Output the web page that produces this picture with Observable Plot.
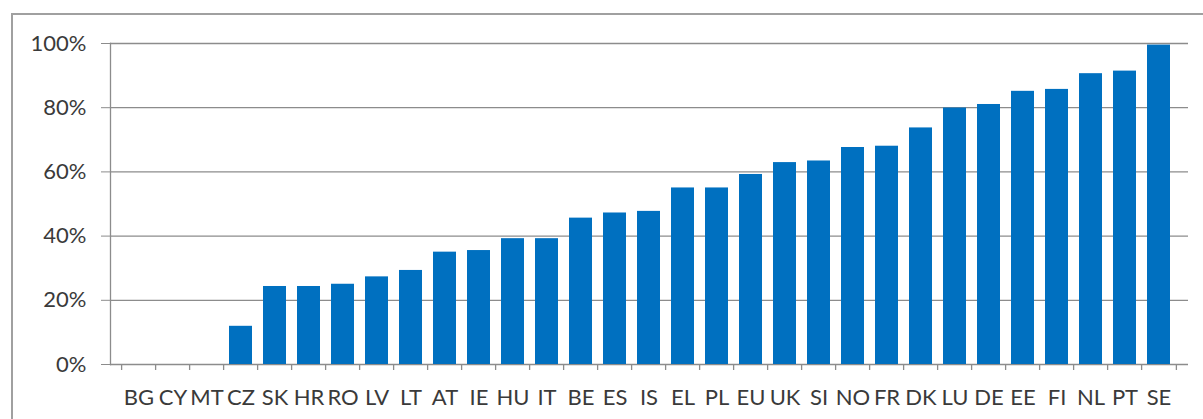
<!DOCTYPE html>
<html>
<head>
<meta charset="utf-8">
<script src="https://cdn.jsdelivr.net/npm/d3@7"></script>
<script src="https://cdn.jsdelivr.net/npm/@observablehq/plot@0.6"></script>
<style>
  html, body { margin: 0; padding: 0; background: #fff; }
  #wrap { position: relative; width: 1203px; height: 419px; overflow: hidden; }
  #border { position: absolute; left: 11px; top: 13px; width: 1300px; height: 500px;
            border-left: 2px solid #a0a0a0; border-top: 2px solid #a0a0a0; box-sizing: border-box; pointer-events: none; }
</style>
</head>
<body>
<div id="wrap"><div id="chart"></div><div id="border"></div></div>
<script>
const countries = ["BG","CY","MT","CZ","SK","HR","RO","LV","LT","AT","IE","HU","IT","BE","ES","IS","EL","PL","EU","UK","SI","NO","FR","DK","LU","DE","EE","FI","NL","PT","SE"];
const shares = [0, 0, 0, 0.119, 0.243, 0.243, 0.25, 0.273, 0.293, 0.35, 0.355, 0.392, 0.392, 0.456, 0.472, 0.477, 0.55, 0.55, 0.592, 0.629, 0.634, 0.676, 0.68, 0.737, 0.799, 0.81, 0.851, 0.857, 0.906, 0.914, 0.995];
const yTicks = [0, 0.2, 0.4, 0.6, 0.8, 1.0];

const data = countries.map((c, i) => ({country: c, value: shares[i]}));

const W = 1203, H = 419, ML = 110, MR = 15, MT = 43, MB = 55;
const step = (W - ML - MR) / countries.length;
const font = "Lato, 'Open Sans', sans-serif";

const chart = Plot.plot({
  width: W, height: H,
  marginLeft: ML, marginRight: MR, marginTop: MT, marginBottom: MB,
  style: {fontFamily: font, fontSize: "22px", color: "#3a3a3a", background: "#fff"},
  x: {domain: countries, padding: 0.31, align: 0.5},
  y: {domain: [0, 1]},
  marks: [
    Plot.ruleY(yTicks, {y: d => d, stroke: "#8c8c8c", strokeWidth: 1.3}),
    Plot.barY(data, {x: "country", y: "value", fill: "#0070c0"}),
    Plot.frame({anchor: "left", stroke: "#8c8c8c", strokeWidth: 1.3}),
    Plot.ruleX(countries, {x: d => d, dx: -step / 2, y1: 0, y2: 0, insetBottom: -6, stroke: "#8c8c8c", strokeWidth: 1.3}),
    Plot.ruleX([countries[countries.length - 1]], {x: d => d, dx: step / 2, y1: 0, y2: 0, insetBottom: -6, stroke: "#8c8c8c", strokeWidth: 1.3}),
    Plot.axisY(yTicks, {tickFormat: d3.format(".0%"), tickSize: 9, tickPadding: 15, stroke: "#8c8c8c", label: null, fill: "#3a3a3a"}),
    Plot.axisX({tickSize: 0, tickPadding: 25, label: null, fill: "#3a3a3a"})
  ]
});
document.getElementById("chart").appendChild(chart);
</script>
</body>
</html>
